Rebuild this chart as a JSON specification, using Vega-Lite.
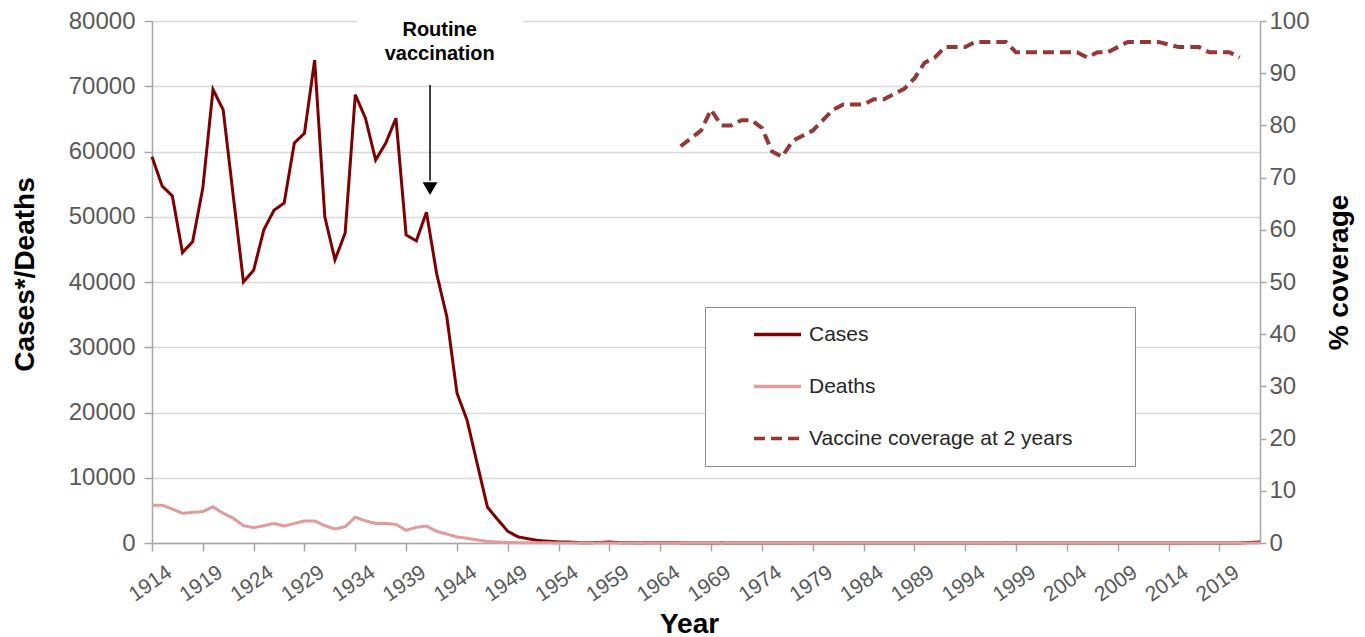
{
  "$schema": "https://vega.github.io/schema/vega-lite/v6.json",
  "width": 1108,
  "height": 522,
  "autosize": {"type": "none"},
  "padding": {"left": 152, "top": 21, "right": 105, "bottom": 94},
  "background": "white",
  "config": {
    "view": {"stroke": null},
    "font": "Liberation Sans",
    "axis": {
      "labelFont": "Liberation Sans",
      "labelFontSize": 24,
      "labelColor": "#595959",
      "titleFont": "Liberation Sans",
      "titleFontSize": 28,
      "titleFontWeight": "bold",
      "titleColor": "#000000",
      "domainColor": "#a6a6a6",
      "domainWidth": 1.5,
      "tickColor": "#a6a6a6",
      "tickWidth": 1.5,
      "gridColor": "#d9d9d9",
      "gridWidth": 1.5
    },
    "legend": {
      "labelFont": "Liberation Sans",
      "labelFontSize": 21,
      "labelColor": "#262626"
    }
  },
  "datasets": {
    "main": [
      {"year": 1914, "series": "Cases", "value": 59200},
      {"year": 1915, "series": "Cases", "value": 54700},
      {"year": 1916, "series": "Cases", "value": 53200},
      {"year": 1917, "series": "Cases", "value": 44500},
      {"year": 1918, "series": "Cases", "value": 46200},
      {"year": 1919, "series": "Cases", "value": 54400},
      {"year": 1920, "series": "Cases", "value": 69500},
      {"year": 1921, "series": "Cases", "value": 66400},
      {"year": 1922, "series": "Cases", "value": 53100},
      {"year": 1923, "series": "Cases", "value": 40000},
      {"year": 1924, "series": "Cases", "value": 41800},
      {"year": 1925, "series": "Cases", "value": 48000},
      {"year": 1926, "series": "Cases", "value": 51000},
      {"year": 1927, "series": "Cases", "value": 52100},
      {"year": 1928, "series": "Cases", "value": 61300},
      {"year": 1929, "series": "Cases", "value": 62800},
      {"year": 1930, "series": "Cases", "value": 74000},
      {"year": 1931, "series": "Cases", "value": 50000},
      {"year": 1932, "series": "Cases", "value": 43400},
      {"year": 1933, "series": "Cases", "value": 47500},
      {"year": 1934, "series": "Cases", "value": 68700},
      {"year": 1935, "series": "Cases", "value": 65100},
      {"year": 1936, "series": "Cases", "value": 58700},
      {"year": 1937, "series": "Cases", "value": 61300},
      {"year": 1938, "series": "Cases", "value": 65100},
      {"year": 1939, "series": "Cases", "value": 47200},
      {"year": 1940, "series": "Cases", "value": 46300},
      {"year": 1941, "series": "Cases", "value": 50700},
      {"year": 1942, "series": "Cases", "value": 41300},
      {"year": 1943, "series": "Cases", "value": 34700},
      {"year": 1944, "series": "Cases", "value": 23000},
      {"year": 1945, "series": "Cases", "value": 18800},
      {"year": 1946, "series": "Cases", "value": 12100},
      {"year": 1947, "series": "Cases", "value": 5500},
      {"year": 1948, "series": "Cases", "value": 3600},
      {"year": 1949, "series": "Cases", "value": 1800},
      {"year": 1950, "series": "Cases", "value": 950},
      {"year": 1951, "series": "Cases", "value": 650},
      {"year": 1952, "series": "Cases", "value": 380},
      {"year": 1953, "series": "Cases", "value": 270},
      {"year": 1954, "series": "Cases", "value": 170},
      {"year": 1955, "series": "Cases", "value": 150},
      {"year": 1956, "series": "Cases", "value": 55},
      {"year": 1957, "series": "Cases", "value": 40},
      {"year": 1958, "series": "Cases", "value": 80},
      {"year": 1959, "series": "Cases", "value": 150},
      {"year": 1960, "series": "Cases", "value": 50},
      {"year": 1961, "series": "Cases", "value": 50},
      {"year": 1962, "series": "Cases", "value": 16},
      {"year": 1963, "series": "Cases", "value": 33},
      {"year": 1964, "series": "Cases", "value": 20},
      {"year": 1965, "series": "Cases", "value": 25},
      {"year": 1966, "series": "Cases", "value": 20},
      {"year": 1967, "series": "Cases", "value": 10},
      {"year": 1968, "series": "Cases", "value": 15},
      {"year": 1969, "series": "Cases", "value": 12},
      {"year": 1970, "series": "Cases", "value": 20},
      {"year": 1971, "series": "Cases", "value": 15},
      {"year": 1972, "series": "Cases", "value": 5},
      {"year": 1973, "series": "Cases", "value": 5},
      {"year": 1974, "series": "Cases", "value": 8},
      {"year": 1975, "series": "Cases", "value": 10},
      {"year": 1976, "series": "Cases", "value": 5},
      {"year": 1977, "series": "Cases", "value": 8},
      {"year": 1978, "series": "Cases", "value": 5},
      {"year": 1979, "series": "Cases", "value": 5},
      {"year": 1980, "series": "Cases", "value": 3},
      {"year": 1981, "series": "Cases", "value": 4},
      {"year": 1982, "series": "Cases", "value": 3},
      {"year": 1983, "series": "Cases", "value": 3},
      {"year": 1984, "series": "Cases", "value": 2},
      {"year": 1985, "series": "Cases", "value": 3},
      {"year": 1986, "series": "Cases", "value": 5},
      {"year": 1987, "series": "Cases", "value": 3},
      {"year": 1988, "series": "Cases", "value": 2},
      {"year": 1989, "series": "Cases", "value": 3},
      {"year": 1990, "series": "Cases", "value": 4},
      {"year": 1991, "series": "Cases", "value": 3},
      {"year": 1992, "series": "Cases", "value": 5},
      {"year": 1993, "series": "Cases", "value": 8},
      {"year": 1994, "series": "Cases", "value": 10},
      {"year": 1995, "series": "Cases", "value": 12},
      {"year": 1996, "series": "Cases", "value": 10},
      {"year": 1997, "series": "Cases", "value": 8},
      {"year": 1998, "series": "Cases", "value": 20},
      {"year": 1999, "series": "Cases", "value": 10},
      {"year": 2000, "series": "Cases", "value": 12},
      {"year": 2001, "series": "Cases", "value": 10},
      {"year": 2002, "series": "Cases", "value": 8},
      {"year": 2003, "series": "Cases", "value": 10},
      {"year": 2004, "series": "Cases", "value": 12},
      {"year": 2005, "series": "Cases", "value": 10},
      {"year": 2006, "series": "Cases", "value": 8},
      {"year": 2007, "series": "Cases", "value": 5},
      {"year": 2008, "series": "Cases", "value": 6},
      {"year": 2009, "series": "Cases", "value": 10},
      {"year": 2010, "series": "Cases", "value": 8},
      {"year": 2011, "series": "Cases", "value": 6},
      {"year": 2012, "series": "Cases", "value": 5},
      {"year": 2013, "series": "Cases", "value": 8},
      {"year": 2014, "series": "Cases", "value": 6},
      {"year": 2015, "series": "Cases", "value": 10},
      {"year": 2016, "series": "Cases", "value": 12},
      {"year": 2017, "series": "Cases", "value": 8},
      {"year": 2018, "series": "Cases", "value": 10},
      {"year": 2019, "series": "Cases", "value": 12},
      {"year": 2020, "series": "Cases", "value": 6},
      {"year": 2021, "series": "Cases", "value": 8},
      {"year": 2022, "series": "Cases", "value": 80},
      {"year": 2023, "series": "Cases", "value": 150},
      {"year": 1914, "series": "Deaths", "value": 5800},
      {"year": 1915, "series": "Deaths", "value": 5800},
      {"year": 1916, "series": "Deaths", "value": 5200},
      {"year": 1917, "series": "Deaths", "value": 4550},
      {"year": 1918, "series": "Deaths", "value": 4700},
      {"year": 1919, "series": "Deaths", "value": 4800},
      {"year": 1920, "series": "Deaths", "value": 5550},
      {"year": 1921, "series": "Deaths", "value": 4550},
      {"year": 1922, "series": "Deaths", "value": 3800},
      {"year": 1923, "series": "Deaths", "value": 2650},
      {"year": 1924, "series": "Deaths", "value": 2350},
      {"year": 1925, "series": "Deaths", "value": 2650},
      {"year": 1926, "series": "Deaths", "value": 3000},
      {"year": 1927, "series": "Deaths", "value": 2600},
      {"year": 1928, "series": "Deaths", "value": 3000},
      {"year": 1929, "series": "Deaths", "value": 3370},
      {"year": 1930, "series": "Deaths", "value": 3370},
      {"year": 1931, "series": "Deaths", "value": 2650},
      {"year": 1932, "series": "Deaths", "value": 2150},
      {"year": 1933, "series": "Deaths", "value": 2500},
      {"year": 1934, "series": "Deaths", "value": 3950},
      {"year": 1935, "series": "Deaths", "value": 3400},
      {"year": 1936, "series": "Deaths", "value": 3000},
      {"year": 1937, "series": "Deaths", "value": 3000},
      {"year": 1938, "series": "Deaths", "value": 2850},
      {"year": 1939, "series": "Deaths", "value": 1950},
      {"year": 1940, "series": "Deaths", "value": 2400},
      {"year": 1941, "series": "Deaths", "value": 2600},
      {"year": 1942, "series": "Deaths", "value": 1800},
      {"year": 1943, "series": "Deaths", "value": 1370},
      {"year": 1944, "series": "Deaths", "value": 930},
      {"year": 1945, "series": "Deaths", "value": 720},
      {"year": 1946, "series": "Deaths", "value": 470},
      {"year": 1947, "series": "Deaths", "value": 240},
      {"year": 1948, "series": "Deaths", "value": 160},
      {"year": 1949, "series": "Deaths", "value": 85},
      {"year": 1950, "series": "Deaths", "value": 50},
      {"year": 1951, "series": "Deaths", "value": 35},
      {"year": 1952, "series": "Deaths", "value": 32},
      {"year": 1953, "series": "Deaths", "value": 23},
      {"year": 1954, "series": "Deaths", "value": 9},
      {"year": 1955, "series": "Deaths", "value": 12},
      {"year": 1956, "series": "Deaths", "value": 8},
      {"year": 1957, "series": "Deaths", "value": 5},
      {"year": 1958, "series": "Deaths", "value": 8},
      {"year": 1959, "series": "Deaths", "value": 4},
      {"year": 1960, "series": "Deaths", "value": 5},
      {"year": 1961, "series": "Deaths", "value": 10},
      {"year": 1962, "series": "Deaths", "value": 2},
      {"year": 1963, "series": "Deaths", "value": 2},
      {"year": 1964, "series": "Deaths", "value": 0},
      {"year": 1965, "series": "Deaths", "value": 0},
      {"year": 1966, "series": "Deaths", "value": 1},
      {"year": 1967, "series": "Deaths", "value": 0},
      {"year": 1968, "series": "Deaths", "value": 2},
      {"year": 1969, "series": "Deaths", "value": 1},
      {"year": 1970, "series": "Deaths", "value": 1},
      {"year": 1971, "series": "Deaths", "value": 1},
      {"year": 1972, "series": "Deaths", "value": 0},
      {"year": 1973, "series": "Deaths", "value": 0},
      {"year": 1974, "series": "Deaths", "value": 0},
      {"year": 1975, "series": "Deaths", "value": 1},
      {"year": 1976, "series": "Deaths", "value": 0},
      {"year": 1977, "series": "Deaths", "value": 0},
      {"year": 1978, "series": "Deaths", "value": 1},
      {"year": 1979, "series": "Deaths", "value": 0},
      {"year": 1980, "series": "Deaths", "value": 0},
      {"year": 1981, "series": "Deaths", "value": 0},
      {"year": 1982, "series": "Deaths", "value": 0},
      {"year": 1983, "series": "Deaths", "value": 0},
      {"year": 1984, "series": "Deaths", "value": 0},
      {"year": 1985, "series": "Deaths", "value": 1},
      {"year": 1986, "series": "Deaths", "value": 0},
      {"year": 1987, "series": "Deaths", "value": 0},
      {"year": 1988, "series": "Deaths", "value": 0},
      {"year": 1989, "series": "Deaths", "value": 0},
      {"year": 1990, "series": "Deaths", "value": 0},
      {"year": 1991, "series": "Deaths", "value": 0},
      {"year": 1992, "series": "Deaths", "value": 0},
      {"year": 1993, "series": "Deaths", "value": 0},
      {"year": 1994, "series": "Deaths", "value": 1},
      {"year": 1995, "series": "Deaths", "value": 0},
      {"year": 1996, "series": "Deaths", "value": 0},
      {"year": 1997, "series": "Deaths", "value": 0},
      {"year": 1998, "series": "Deaths", "value": 0},
      {"year": 1999, "series": "Deaths", "value": 0},
      {"year": 2000, "series": "Deaths", "value": 0},
      {"year": 2001, "series": "Deaths", "value": 0},
      {"year": 2002, "series": "Deaths", "value": 0},
      {"year": 2003, "series": "Deaths", "value": 0},
      {"year": 2004, "series": "Deaths", "value": 0},
      {"year": 2005, "series": "Deaths", "value": 0},
      {"year": 2006, "series": "Deaths", "value": 0},
      {"year": 2007, "series": "Deaths", "value": 0},
      {"year": 2008, "series": "Deaths", "value": 1},
      {"year": 2009, "series": "Deaths", "value": 0},
      {"year": 2010, "series": "Deaths", "value": 0},
      {"year": 2011, "series": "Deaths", "value": 0},
      {"year": 2012, "series": "Deaths", "value": 0},
      {"year": 2013, "series": "Deaths", "value": 0},
      {"year": 2014, "series": "Deaths", "value": 1},
      {"year": 2015, "series": "Deaths", "value": 0},
      {"year": 2016, "series": "Deaths", "value": 0},
      {"year": 2017, "series": "Deaths", "value": 0},
      {"year": 2018, "series": "Deaths", "value": 0},
      {"year": 2019, "series": "Deaths", "value": 0},
      {"year": 2020, "series": "Deaths", "value": 0},
      {"year": 2021, "series": "Deaths", "value": 0},
      {"year": 2022, "series": "Deaths", "value": 1},
      {"year": 2023, "series": "Deaths", "value": 0},
      {"year": 1966, "series": "Vaccine coverage at 2 years", "value": 76},
      {"year": 1967, "series": "Vaccine coverage at 2 years", "value": 77.5},
      {"year": 1968, "series": "Vaccine coverage at 2 years", "value": 79},
      {"year": 1969, "series": "Vaccine coverage at 2 years", "value": 83},
      {"year": 1970, "series": "Vaccine coverage at 2 years", "value": 80},
      {"year": 1971, "series": "Vaccine coverage at 2 years", "value": 80},
      {"year": 1972, "series": "Vaccine coverage at 2 years", "value": 81},
      {"year": 1973, "series": "Vaccine coverage at 2 years", "value": 81},
      {"year": 1974, "series": "Vaccine coverage at 2 years", "value": 79.5},
      {"year": 1975, "series": "Vaccine coverage at 2 years", "value": 75},
      {"year": 1976, "series": "Vaccine coverage at 2 years", "value": 74},
      {"year": 1977, "series": "Vaccine coverage at 2 years", "value": 77},
      {"year": 1978, "series": "Vaccine coverage at 2 years", "value": 78},
      {"year": 1979, "series": "Vaccine coverage at 2 years", "value": 79},
      {"year": 1980, "series": "Vaccine coverage at 2 years", "value": 81},
      {"year": 1981, "series": "Vaccine coverage at 2 years", "value": 83},
      {"year": 1982, "series": "Vaccine coverage at 2 years", "value": 84},
      {"year": 1983, "series": "Vaccine coverage at 2 years", "value": 84},
      {"year": 1984, "series": "Vaccine coverage at 2 years", "value": 84},
      {"year": 1985, "series": "Vaccine coverage at 2 years", "value": 85},
      {"year": 1986, "series": "Vaccine coverage at 2 years", "value": 85},
      {"year": 1987, "series": "Vaccine coverage at 2 years", "value": 86},
      {"year": 1988, "series": "Vaccine coverage at 2 years", "value": 87},
      {"year": 1989, "series": "Vaccine coverage at 2 years", "value": 89},
      {"year": 1990, "series": "Vaccine coverage at 2 years", "value": 92},
      {"year": 1991, "series": "Vaccine coverage at 2 years", "value": 93},
      {"year": 1992, "series": "Vaccine coverage at 2 years", "value": 95},
      {"year": 1993, "series": "Vaccine coverage at 2 years", "value": 95},
      {"year": 1994, "series": "Vaccine coverage at 2 years", "value": 95},
      {"year": 1995, "series": "Vaccine coverage at 2 years", "value": 96},
      {"year": 1996, "series": "Vaccine coverage at 2 years", "value": 96},
      {"year": 1997, "series": "Vaccine coverage at 2 years", "value": 96},
      {"year": 1998, "series": "Vaccine coverage at 2 years", "value": 96},
      {"year": 1999, "series": "Vaccine coverage at 2 years", "value": 94},
      {"year": 2000, "series": "Vaccine coverage at 2 years", "value": 94},
      {"year": 2001, "series": "Vaccine coverage at 2 years", "value": 94},
      {"year": 2002, "series": "Vaccine coverage at 2 years", "value": 94},
      {"year": 2003, "series": "Vaccine coverage at 2 years", "value": 94},
      {"year": 2004, "series": "Vaccine coverage at 2 years", "value": 94},
      {"year": 2005, "series": "Vaccine coverage at 2 years", "value": 94},
      {"year": 2006, "series": "Vaccine coverage at 2 years", "value": 93},
      {"year": 2007, "series": "Vaccine coverage at 2 years", "value": 94},
      {"year": 2008, "series": "Vaccine coverage at 2 years", "value": 94},
      {"year": 2009, "series": "Vaccine coverage at 2 years", "value": 95},
      {"year": 2010, "series": "Vaccine coverage at 2 years", "value": 96},
      {"year": 2011, "series": "Vaccine coverage at 2 years", "value": 96},
      {"year": 2012, "series": "Vaccine coverage at 2 years", "value": 96},
      {"year": 2013, "series": "Vaccine coverage at 2 years", "value": 96},
      {"year": 2014, "series": "Vaccine coverage at 2 years", "value": 95.5},
      {"year": 2015, "series": "Vaccine coverage at 2 years", "value": 95},
      {"year": 2016, "series": "Vaccine coverage at 2 years", "value": 95},
      {"year": 2017, "series": "Vaccine coverage at 2 years", "value": 95},
      {"year": 2018, "series": "Vaccine coverage at 2 years", "value": 94},
      {"year": 2019, "series": "Vaccine coverage at 2 years", "value": 94},
      {"year": 2020, "series": "Vaccine coverage at 2 years", "value": 94},
      {"year": 2021, "series": "Vaccine coverage at 2 years", "value": 93}
    ],
    "notes": [
      {"kind": "box", "year": 1934.2, "year2": 1950.5, "value": 71500, "value2": 81500},
      {"kind": "label", "year": 1942.3, "value": 77700},
      {"kind": "arrow", "year": 1941.35, "value": 70200, "value2": 55500},
      {"kind": "head", "year": 1941.35, "value": 54300}
    ]
  },
  "encoding": {
    "x": {
      "field": "year",
      "type": "quantitative",
      "scale": {"domain": [1914, 2023], "nice": false, "zero": false},
      "axis": {
        "title": "Year",
        "titleX": 537,
        "titleY": 89,
        "titleBaseline": "alphabetic",
        "values": [1914, 1919, 1924, 1929, 1934, 1939, 1944, 1949, 1954, 1959, 1964, 1969, 1974, 1979, 1984, 1989, 1994, 1999, 2004, 2009, 2014, 2019],
        "format": "d",
        "grid": false,
        "tickSize": 8,
        "labelAngle": -35,
        "labelAlign": "right",
        "labelBaseline": "top",
        "labelPadding": 10,
        "labelOffset": 11,
        "labelFontSize": 21
      }
    }
  },
  "layer": [
    {
      "layer": [
        {
          "data": {"name": "notes"},
          "transform": [{"filter": "datum.kind === 'box'"}],
          "mark": {"type": "rect", "fill": "white", "clip": false},
          "encoding": {
            "x2": {"field": "year2"},
            "y": {"field": "value", "type": "quantitative", "scale": {"domain": [0, 80000], "nice": false}, "title": "Cases*/Deaths"},
            "y2": {"field": "value2"}
          }
        },
        {
          "data": {"name": "main"},
          "transform": [{"filter": "datum.series === 'Cases'"}],
          "mark": {"type": "line", "strokeWidth": 3, "clip": false},
          "encoding": {
            "y": {
              "field": "value",
              "type": "quantitative",
              "scale": {"domain": [0, 80000], "nice": false},
              "title": "Cases*/Deaths",
              "axis": {
                "values": [0, 10000, 20000, 30000, 40000, 50000, 60000, 70000, 80000],
                "format": "d",
                "tickSize": 8,
                "labelPadding": 9,
                "titleX": -127,
                "titleY": 253,
                "titleAngle": -90,
                "titleBaseline": "middle"
              }
            },
            "color": {
              "field": "series",
              "type": "nominal",
              "scale": {"domain": ["Cases", "Deaths", "Vaccine coverage at 2 years"], "range": ["#7f0000", "#e09c9b", "#953735"]},
              "legend": {
                "title": null,
                "orient": "none",
                "legendX": 553,
                "legendY": 286,
                "direction": "vertical",
                "fillColor": "white",
                "strokeColor": "#8c8c8c",
                "padding": 17,
                "symbolType": "M-3,0H3",
                "symbolSize": 245,
                "symbolStrokeWidth": 3.5,
                "symbolOffset": 45,
                "labelOffset": 21,
                "rowPadding": 30,
                "labelLimit": 500,
                "labelExpr": "datum.label + '\u2800\u2800\u2800'"
              }
            },
            "strokeDash": {
              "field": "series",
              "type": "nominal",
              "scale": {"domain": ["Cases", "Deaths", "Vaccine coverage at 2 years"], "range": [[1, 0], [1, 0], [11, 6]]},
              "legend": null
            }
          }
        },
        {
          "data": {"name": "main"},
          "transform": [{"filter": "datum.series === 'Deaths'"}],
          "mark": {"type": "line", "strokeWidth": 3, "clip": false},
          "encoding": {
            "y": {"field": "value", "type": "quantitative", "scale": {"domain": [0, 80000], "nice": false}, "title": "Cases*/Deaths"},
            "color": {"field": "series", "type": "nominal"},
            "strokeDash": {"field": "series", "type": "nominal", "legend": null}
          }
        },
        {
          "data": {"name": "notes"},
          "transform": [{"filter": "datum.kind === 'label'"}],
          "mark": {"type": "text", "text": ["Routine", "vaccination"], "font": "Liberation Sans", "fontWeight": "bold", "fontSize": 20, "lineHeight": 24, "align": "center", "baseline": "alphabetic", "color": "#000000", "clip": false},
          "encoding": {
            "y": {"field": "value", "type": "quantitative", "scale": {"domain": [0, 80000], "nice": false}, "title": "Cases*/Deaths"}
          }
        },
        {
          "data": {"name": "notes"},
          "transform": [{"filter": "datum.kind === 'arrow'"}],
          "mark": {"type": "rule", "color": "#000000", "strokeWidth": 1.5},
          "encoding": {
            "y": {"field": "value", "type": "quantitative", "scale": {"domain": [0, 80000], "nice": false}, "title": "Cases*/Deaths"},
            "y2": {"field": "value2"}
          }
        },
        {
          "data": {"name": "notes"},
          "transform": [{"filter": "datum.kind === 'head'"}],
          "mark": {"type": "point", "shape": "triangle-down", "filled": true, "color": "#000000", "size": 220, "opacity": 1},
          "encoding": {
            "y": {"field": "value", "type": "quantitative", "scale": {"domain": [0, 80000], "nice": false}, "title": "Cases*/Deaths"}
          }
        }
      ]
    },
    {
      "data": {"name": "main"},
      "transform": [{"filter": "datum.series === 'Vaccine coverage at 2 years'"}],
      "mark": {"type": "line", "strokeWidth": 4},
      "encoding": {
        "y": {
          "field": "value",
          "type": "quantitative",
          "scale": {"domain": [0, 100], "nice": false},
          "title": "% coverage",
          "axis": {
            "orient": "right",
            "values": [0, 10, 20, 30, 40, 50, 60, 70, 80, 90, 100],
            "grid": false,
            "tickSize": 6,
            "labelPadding": 3,
            "titleX": 79,
            "titleY": 251,
            "titleAngle": -90,
            "titleBaseline": "middle"
          }
        },
        "color": {"field": "series", "type": "nominal"},
        "strokeDash": {"field": "series", "type": "nominal", "legend": null}
      }
    }
  ],
  "resolve": {"scale": {"y": "independent"}}
}
